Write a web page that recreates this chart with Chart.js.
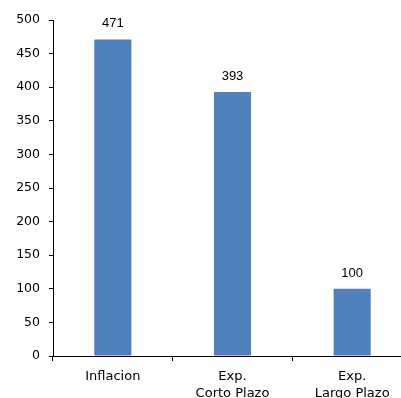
<!DOCTYPE html>
<html>
<head>
<meta charset="utf-8">
<script src="https://cdn.jsdelivr.net/npm/chart.js@4"></script>
<style>
  html, body { margin: 0; padding: 0; background: #fff; overflow: hidden; }
  #wrap { width: 412px; height: 398px; position: relative; }
</style>
</head>
<body>
<div id="wrap"><canvas id="chart"></canvas></div>
<script>
const categories = [['Inflacion'], ['Exp.', 'Corto Plazo'], ['Exp.', 'Largo Plazo']];
const values = [471, 393, 100];
const yTicks = [0, 50, 100, 150, 200, 250, 300, 350, 400, 450, 500];

const barColor = '#4F81BD';

// draws the numbers above each bar
const valueLabels = {
    id: 'valueLabels',
    afterDatasetsDraw(chart) {
        const ctx = chart.ctx;
        const meta = chart.getDatasetMeta(0);
        ctx.save();
        ctx.font = '13px "Liberation Sans", Arial, sans-serif';
        ctx.fillStyle = '#000';
        ctx.textAlign = 'center';
        ctx.textBaseline = 'alphabetic';
        meta.data.forEach((bar, i) => {
            ctx.fillText(String(values[i]), bar.x, bar.y - 12);
        });
        ctx.restore();
    }
};

const ctx = document.getElementById('chart').getContext('2d');
new Chart(ctx, {
    type: 'bar',
    data: {
        labels: categories,
        datasets: [{
            data: values,
            backgroundColor: barColor,
            borderWidth: 0,
            barPercentage: 0.31,
            categoryPercentage: 1
        }]
    },
    options: {
        responsive: true,
        maintainAspectRatio: false,
        animation: false,
        layout: { padding: { top: 20, left: 0, right: 0, bottom: 0 } },
        plugins: {
            legend: { display: false },
            tooltip: { enabled: false }
        },
        scales: {
            x: {
                grid: { display: true, drawOnChartArea: false, drawTicks: true, tickLength: 5, color: '#000', offset: true },
                border: { display: true, color: '#000', width: 1 },
                ticks: {
                    color: '#000',
                    font: { family: '"DejaVu Sans", sans-serif', size: 13, lineHeight: 1.3 },
                    padding: 7,
                    maxRotation: 0
                },
                afterFit: (scale) => { scale.height = 42; }
            },
            y: {
                min: 0,
                max: 500,
                afterBuildTicks: (scale) => { scale.ticks = yTicks.map(v => ({ value: v })); },
                grid: { display: true, drawOnChartArea: false, drawTicks: true, tickLength: 4, color: '#000' },
                border: { display: true, color: '#000', width: 1 },
                ticks: {
                    color: '#000',
                    font: { family: '"DejaVu Sans", sans-serif', size: 12.5 },
                    padding: 9
                },
                afterFit: (scale) => { scale.width = 53; }
            }
        }
    },
    plugins: [valueLabels]
});
</script>
</body>
</html>
